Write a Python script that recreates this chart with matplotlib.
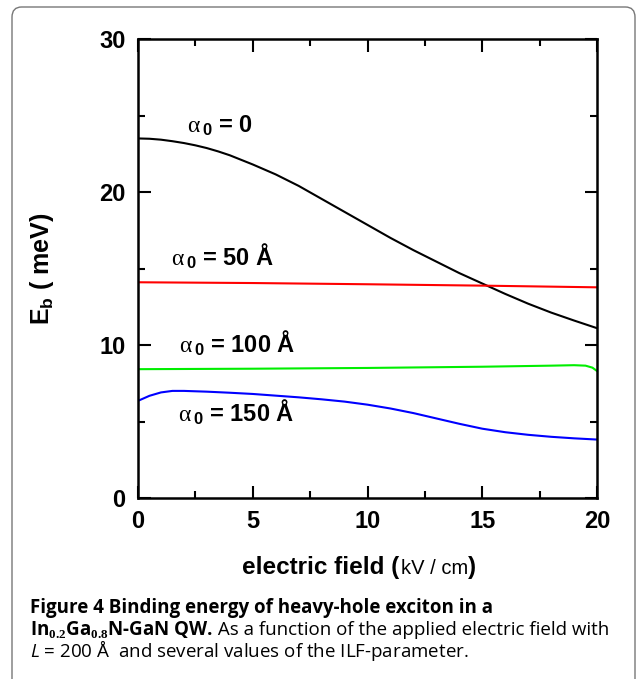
import matplotlib
matplotlib.use("Agg")
import matplotlib.pyplot as plt
from matplotlib.patches import FancyBboxPatch
from matplotlib.ticker import MultipleLocator

plt.rcParams['mathtext.fontset'] = 'custom'
plt.rcParams['mathtext.rm'] = 'Liberation Serif'
plt.rcParams['mathtext.bf'] = 'Liberation Sans:bold'
plt.rcParams['mathtext.it'] = 'Open Sans:italic'
plt.rcParams['mathtext.sf'] = 'Liberation Serif:bold'

# binding energy (meV) vs electric field (kV/cm)
field_a0 = [0, 0.5, 1, 1.5, 2, 2.5, 3, 3.5, 4, 5, 6, 7, 8, 9, 10, 11, 12, 13,
            14, 15, 16, 17, 18, 19, 20]
eb_a0 = [23.5, 23.48, 23.42, 23.32, 23.2, 23.05, 22.87, 22.65, 22.4, 21.8,
         21.15, 20.4, 19.55, 18.7, 17.85, 17.0, 16.2, 15.45, 14.7, 14.02,
         13.34, 12.7, 12.12, 11.6, 11.1]

field_a50 = [0, 5, 10, 15, 20]
eb_a50 = [14.1, 14.05, 13.97, 13.88, 13.77]

field_a100 = [0, 5, 10, 15, 18, 19, 19.5, 19.8, 20]
eb_a100 = [8.42, 8.45, 8.5, 8.58, 8.65, 8.68, 8.65, 8.52, 8.3]

field_a150 = [0, 0.5, 1, 1.5, 2, 3, 4, 5, 6, 7, 8, 9, 10, 11, 12, 13, 14, 15,
              16, 17, 18, 19, 20]
eb_a150 = [6.35, 6.68, 6.9, 7.0, 7.0, 6.95, 6.88, 6.8, 6.69, 6.58, 6.45, 6.3,
           6.1, 5.85, 5.55, 5.2, 4.85, 4.53, 4.3, 4.13, 4.0, 3.9, 3.82]

W, H = 637, 679
fig = plt.figure(figsize=(W / 100, H / 100), dpi=100)

# rounded frame around figure + caption
frame = FancyBboxPatch((12 / W, -0.05), 623 / W, 0.05 + 672 / H,
                       boxstyle="round,pad=0,rounding_size=0.015",
                       transform=fig.transFigure, fc='none', ec='#777777', lw=1.0)
fig.patches.append(frame)

ax = fig.add_axes([138 / W, 181 / H, 459 / W, 459 / H])

ax.plot(field_a0, eb_a0, color='black', lw=1.5)
ax.plot(field_a50, eb_a50, color='#ff0000', lw=1.5)
ax.plot(field_a100, eb_a100, color='#00ee00', lw=1.5)
ax.plot(field_a150, eb_a150, color='#0000ff', lw=1.5)

ax.set_xlim(0, 20)
ax.set_ylim(0, 30)
ax.xaxis.set_major_locator(MultipleLocator(5))
ax.xaxis.set_minor_locator(MultipleLocator(2.5))
ax.yaxis.set_major_locator(MultipleLocator(10))
ax.yaxis.set_minor_locator(MultipleLocator(5))
ax.tick_params(which='both', direction='in', top=True, right=True, width=1.5)
ax.tick_params(which='major', length=9, pad=9)
ax.tick_params(which='minor', length=5)
for lab in ax.get_xticklabels() + ax.get_yticklabels():
    lab.set_fontfamily('Liberation Sans')
    lab.set_fontweight('bold')
    lab.set_fontsize(17)
for sp in ax.spines.values():
    sp.set_linewidth(1.8)

# curve labels
lab_kw = dict(fontsize=17, fontweight='bold', family='Liberation Sans', va='baseline')
ax.text(2.14, 23.9, r'$\mathrm{\alpha}_{\,\mathbf{0}}$ = 0', **lab_kw)
ax.text(1.42, 15.2, r'$\mathrm{\alpha}_{\,\mathbf{0}}$ = 50 Å', **lab_kw)
ax.text(1.79, 9.56, r'$\mathrm{\alpha}_{\,\mathbf{0}}$ = 100 Å', **lab_kw)
ax.text(1.74, 5.05, r'$\mathrm{\alpha}_{\,\mathbf{0}}$ = 150 Å', **lab_kw)

# y label
ax.set_ylabel(r'E$_{\mathbf{b}}$ ( meV)', fontsize=18, fontweight='bold',
              family='Liberation Sans')
ax.yaxis.set_label_coords(-82 / 459, 0.5)

# x label with smaller units
yb = (H - 574) / H
t1 = fig.text(242 / W, yb, 'electric field (', fontsize=17.5, fontweight='bold',
              family='Liberation Sans', va='baseline')
t2 = plt.annotate('kV / cm', xy=(1, yb), xycoords=(t1, 'figure fraction'),
                  fontsize=14.5, family='Liberation Sans', va='baseline',
                  xytext=(1, 0), textcoords='offset points')
t3 = plt.annotate(')', xy=(1, yb), xycoords=(t2, 'figure fraction'),
                  fontsize=17.5, fontweight='bold', family='Liberation Sans',
                  va='baseline')

# caption
cap_kw = dict(fontsize=13.5, family='Open Sans', va='baseline')
cx = 30 / W
fig.text(cx, (H - 613) / H, 'Figure 4 Binding energy of heavy-hole exciton in a',
         fontweight='bold', **cap_kw)
y2 = (H - 635) / H
c1 = fig.text(cx, y2, r'In$_{\mathsf{0.2}}$Ga$_{\mathsf{0.8}}$N-GaN QW.',
              fontweight='bold', **cap_kw)
plt.annotate(' As a function of the applied electric field with', xy=(1, y2),
             xycoords=(c1, 'figure fraction'), **cap_kw)
fig.text(cx, (H - 657) / H, r'$L$ = 200 Å  and several values of the ILF-parameter.',
         **cap_kw)

fig.savefig('out.png', dpi=100)
